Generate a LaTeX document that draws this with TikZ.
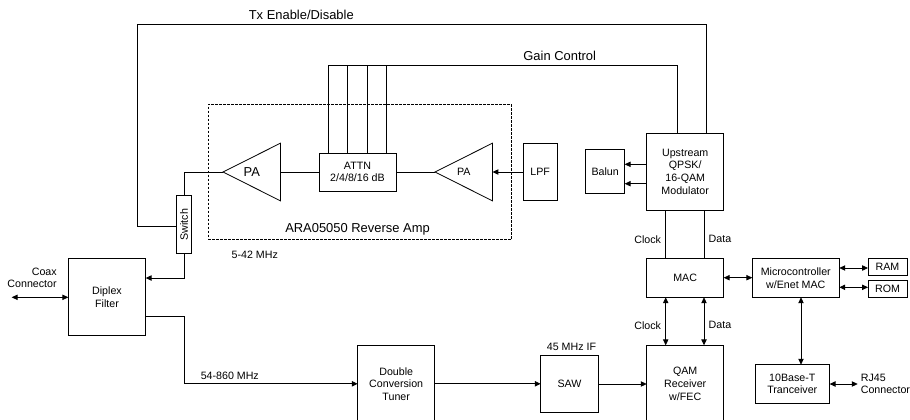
\documentclass[tikz,border=0pt]{standalone}
\usepackage{fontspec}
\setmainfont{Liberation Sans}
\usetikzlibrary{
    arrows.meta,
    shapes.geometric
}
\tikzset{
    rbox/.style 2 args={draw=black, rectangle, inner sep=0pt, outer sep=0pt, line width=0.6pt, align=center, font=\lbl, minimum width=#1*0.75pt, minimum height=#2*0.75pt},
    amptri/.style={draw=black, isosceles triangle, isosceles triangle stretches, shape border rotate=180, anchor=apex, inner sep=0pt, outer sep=0pt, line width=0.6pt, minimum width=57.7*0.75pt, minimum height=57.5*0.75pt},
    txt/.style={inner sep=0pt, outer sep=0pt, align=center, font=\lbl},
    bigtxt/.style={inner sep=0pt, outer sep=0pt, align=center, font=\biglbl},
    wire/.style={line width=0.6pt, >={Triangle[length=4.4pt, width=4pt]}}
}
\newcommand{\lbl}{\fontsize{8}{9.4}\selectfont}
\newcommand{\biglbl}{\fontsize{9.7}{11}\selectfont}

\begin{document}
\begin{tikzpicture}[x=0.75pt, y=-0.75pt]
    \useasboundingbox (0, 0) rectangle (910, 419);
    \clip (0, 0) rectangle (910, 419);
    \node[rbox={303.4}{135}, dash pattern=on 2.2pt off 0.8pt] (amp) at (360, 171.8) {};
    % blocks
    \node[rbox={14.8}{58}] (sw) at (184.1, 224.7) {};
    \node[txt, rotate=90] (swtxt) at (184.1, 224.7) {Switch};
    \node[amptri] (paL) at (223, 172) {};
    \node[bigtxt] (paLtxt) at (251.8, 172) {PA};
    \node[amptri] (paR) at (435, 172) {};
    \node[txt] (paRtxt) at (463.8, 172) {PA};
    \node[rbox={77}{38}] (attn) at (357.5, 172) {ATTN\\2/4/8/16 dB};
    \node[rbox={34.3}{57.5}] (lpf) at (540.2, 172) {LPF};
    \node[rbox={39}{43.6}] (balun) at (605.2, 171.5) {Balun};
    \node[rbox={77}{77}] (mod) at (685.2, 171.6) {Upstream\\QPSK/\\16-QAM\\Modulator};
    \node[rbox={77}{38.6}] (mac) at (685.2, 278) {MAC};
    \node[rbox={87}{38.6}] (micro) at (795.8, 278) {Microcontroller\\w/Enet MAC};
    \node[rbox={39}{17.4}] (ram) at (887.5, 267) {RAM};
    \node[rbox={39}{17}] (rom) at (887.5, 288.8) {ROM};
    \node[rbox={74.7}{38.3}] (phy) at (792.3, 383.8) {10Base-T\\Tranceiver};
    \node[rbox={77.4}{77}] (diplex) at (107, 297.2) {Diplex\\Filter};
    \node[rbox={77}{77}] (tuner) at (396.2, 383.8) {Double\\Conversion\\Tuner};
    \node[rbox={57.6}{57.4}] (saw) at (569.5, 384) {SAW};
    \node[rbox={77}{77}] (qam) at (685.2, 383.8) {QAM\\Receiver\\w/FEC};
    % labels
    \node[bigtxt] (txlbl) at (301.3, 14.7) {Tx Enable/Disable};
    \node[bigtxt] (gainlbl) at (559.7, 55.7) {Gain Control};
    \node[bigtxt] (amplbl) at (357.5, 229.7) {ARA05050 Reverse Amp};
    \node[txt] (uplbl) at (254.8, 255.3) {5-42 MHz};
    \node[txt, align=right, anchor=east] (coax) at (56.7, 277.8) {Coax\\Connector};
    \node[txt] (dnlbl) at (229.8, 376.3) {54-860 MHz};
    \node[txt] (iflbl) at (571.5, 347.3) {45 MHz IF};
    \node[txt, align=left, anchor=west] (rj) at (860.8, 383.8) {RJ45\\Connector};
    \foreach \y/\n in {239.3/a, 325.3/b} {
        \node[txt] (clk\n) at (647.7, \y) {Clock};
        \node[txt] (dat\n) at (720, \y) {Data};
    }
    % connectors
    \coordinate (txcorner) at (137.7, 24.3);
    \coordinate (gaintop) at (677.3, 65.7);
    \coordinate (rxbend) at (184.3, 383.8);
    \coordinate (coaxend) at (11.7, 297.3);
    \coordinate (rjend) at (857.7, 384);
    \draw[wire] (mod.north -| 706, 0) |- (txcorner) |- (sw.west |- 0, 226.7);
    \draw[wire] (mod.north -| gaintop) -- (gaintop) -- (gaintop -| 328.3, 0);
    \foreach \x in {328.3, 347.7, 367.3, 386.3} {
        \draw[wire] (attn.north -| \x, 0) -- (gaintop -| \x, 0);
    }
    \draw[wire] (paL.apex) -| (sw.north);
    \draw[wire] (paL.left corner |- attn.west) -- (attn.west);
    \draw[wire] (attn.east) -- (paR.apex);
    \draw[wire, ->] (lpf.west) -- (paR.left corner |- lpf.west);
    \foreach \y in {164.3, 183.7} {
        \draw[wire, ->] (mod.west |- 0, \y) -- (balun.east |- 0, \y);
    }
    \foreach \x in {665.7, 704} {
        \draw[wire] (mod.south -| \x, 0) -- (mac.north -| \x, 0);
        \draw[wire, <->] (mac.south -| \x, 0) -- (qam.north -| \x, 0);
    }
    \draw[wire, <->] (mac.east |- 0, 277.7) -- (micro.west |- 0, 277.7);
    \draw[wire, <->] (micro.east |- 0, 268) -- (ram.west |- 0, 268);
    \draw[wire, <->] (micro.east |- 0, 287.3) -- (rom.west |- 0, 287.3);
    \draw[wire, <->] (micro.south -| 801, 0) -- (phy.north -| 801, 0);
    \draw[wire, <->] (phy.east |- rjend) -- (rjend);
    \draw[wire, <->] (coaxend) -- (diplex.west |- coaxend);
    \draw[wire, ->] (sw.south) |- (diplex.east |- 0, 278);
    \draw[wire, ->] (diplex.east |- 0, 316.3) -| (rxbend) -- (tuner.west);
    \draw[wire, ->] (tuner.east) -- (saw.west |- tuner.east);
    \draw[wire, ->] (saw.east) -- (qam.west |- saw.east);
\end{tikzpicture}
\end{document}
